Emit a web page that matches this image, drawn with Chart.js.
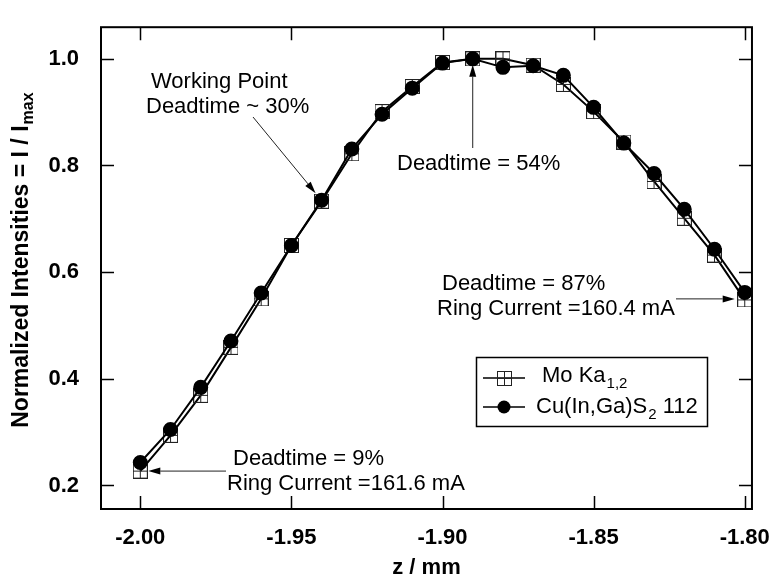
<!DOCTYPE html>
<html>
<head>
<meta charset="utf-8">
<script src="https://cdn.jsdelivr.net/npm/chart.js@4"></script>
<style>
  html, body { margin: 0; padding: 0; background: #fff; }
</style>
</head>
<body>
<canvas id="scan" width="778" height="585"></canvas>
<script>
// z scan positions (mm)
const zPos = [-2.00, -1.99, -1.98, -1.97, -1.96, -1.95, -1.94, -1.93, -1.92, -1.91, -1.90,
              -1.89, -1.88, -1.87, -1.86, -1.85, -1.84, -1.83, -1.82, -1.81, -1.80];
// normalized intensities I / Imax
const moKa = [0.227, 0.294, 0.369, 0.459, 0.550, 0.650, 0.733, 0.822, 0.901, 0.948, 0.993,
              1.000, 1.000, 0.988, 0.952, 0.901, 0.844, 0.770, 0.701, 0.632, 0.548];
const cuInGaS = [0.243, 0.305, 0.384, 0.471, 0.561, 0.650, 0.735, 0.831, 0.896, 0.945, 0.992,
                 1.000, 0.984, 0.987, 0.969, 0.909, 0.842, 0.785, 0.718, 0.643, 0.562];
const xTicks = [-2.00, -1.95, -1.90, -1.85, -1.80];
const yTicks = [0.2, 0.4, 0.6, 0.8, 1.0];

const FONT = "'Liberation Sans', Arial, Helvetica, sans-serif";

// open square with a cross in it, used as point style for Mo Ka
function boxMarker(size) {
  const c = document.createElement("canvas");
  c.width = size; c.height = size;
  const g = c.getContext("2d");
  g.strokeStyle = "#222";
  g.lineWidth = 1;
  g.strokeRect(0.5, 0.5, size - 1, size - 1);
  const m = Math.floor(size / 2) + 0.5;
  g.beginPath();
  g.moveTo(m, 0.5); g.lineTo(m, size - 0.5);
  g.moveTo(0.5, m); g.lineTo(size - 0.5, m);
  g.stroke();
  return c;
}
const box = boxMarker(15);

function arrow(ctx, x0, y0, x1, y1) {
  const a = Math.atan2(y1 - y0, x1 - x0);
  const len = 12, half = 3.5;
  ctx.beginPath();
  ctx.moveTo(x0, y0);
  ctx.lineTo(x1 - Math.cos(a) * len, y1 - Math.sin(a) * len);
  ctx.stroke();
  ctx.beginPath();
  ctx.moveTo(x1, y1);
  ctx.lineTo(x1 - Math.cos(a) * len - Math.sin(a) * half, y1 - Math.sin(a) * len + Math.cos(a) * half);
  ctx.lineTo(x1 - Math.cos(a) * len + Math.sin(a) * half, y1 - Math.sin(a) * len - Math.cos(a) * half);
  ctx.closePath();
  ctx.fill();
}

// text with a subscript part
function subText(ctx, x, y, main, sub, tail, size) {
  ctx.font = size + "px " + FONT;
  ctx.fillText(main, x, y);
  x += ctx.measureText(main).width;
  ctx.font = Math.round(size * 0.68) + "px " + FONT;
  ctx.fillText(sub, x + 1, y + 6);
  x += ctx.measureText(sub).width + 1;
  if (tail) {
    ctx.font = size + "px " + FONT;
    ctx.fillText(tail, x, y);
  }
}

const extras = {
  id: "extras",
  afterDraw(chart) {
    const ctx = chart.ctx;
    const a = chart.chartArea;
    const xs = chart.scales.x, ys = chart.scales.y;
    ctx.save();
    ctx.strokeStyle = "#000";
    ctx.fillStyle = "#000";

    // frame
    ctx.lineWidth = 2;
    ctx.strokeRect(a.left, a.top, a.right - a.left, a.bottom - a.top);

    // inward ticks on all four sides
    ctx.lineWidth = 1.5;
    ctx.beginPath();
    xTicks.forEach(v => {
      const px = Math.round(xs.getPixelForValue(v)) + 0.5;
      ctx.moveTo(px, a.bottom); ctx.lineTo(px, a.bottom - 13);
      ctx.moveTo(px, a.top); ctx.lineTo(px, a.top + 13);
    });
    yTicks.forEach(v => {
      const py = Math.round(ys.getPixelForValue(v)) + 0.5;
      ctx.moveTo(a.left, py); ctx.lineTo(a.left + 13, py);
      ctx.moveTo(a.right, py); ctx.lineTo(a.right - 13, py);
    });
    ctx.stroke();

    // y axis title with subscript
    ctx.save();
    ctx.translate(22, (a.top + a.bottom) / 2 - 8);
    ctx.rotate(-Math.PI / 2);
    ctx.textBaseline = "middle";
    const mainT = "Normalized Intensities = I / I", subT = "max";
    ctx.font = "bold 23px " + FONT;
    const w1 = ctx.measureText(mainT).width;
    ctx.font = "bold 16px " + FONT;
    const w2 = ctx.measureText(subT).width;
    const sx = -(w1 + w2 + 1) / 2;
    ctx.font = "bold 23px " + FONT;
    ctx.fillText(mainT, sx, 0);
    ctx.font = "bold 16px " + FONT;
    ctx.fillText(subT, sx + w1 + 1, 7);
    ctx.restore();

    // annotations
    ctx.font = "22px " + FONT;
    ctx.textBaseline = "alphabetic";
    ctx.textAlign = "left";
    ctx.fillText("Working Point", 151, 88);
    ctx.fillText("Deadtime ~ 30%", 146, 113);
    ctx.fillText("Deadtime = 54%", 397, 170);
    ctx.fillText("Deadtime = 87%", 442, 290);
    ctx.fillText("Ring Current =160.4 mA", 437, 315);
    ctx.fillText("Deadtime = 9%", 233, 465);
    ctx.fillText("Ring Current =161.6 mA", 227, 490);

    ctx.lineWidth = 1;
    ctx.strokeStyle = "#222";
    // working point -> z = -1.94
    const wx = xs.getPixelForValue(zPos[6]), wy = ys.getPixelForValue(cuInGaS[6]);
    arrow(ctx, 253, 117, wx - 6, wy - 7);
    // maximum at z = -1.89
    const mx = xs.getPixelForValue(zPos[11]), my = ys.getPixelForValue(moKa[11]);
    arrow(ctx, mx, 148, mx, my + 6);
    // last point z = -1.80
    const ex = xs.getPixelForValue(zPos[20]), ey = ys.getPixelForValue(moKa[20]);
    arrow(ctx, 676, ey - 1, ex - 10, ey - 1);
    // first point z = -2.00
    const bx = xs.getPixelForValue(zPos[0]), by = ys.getPixelForValue(moKa[0]);
    arrow(ctx, 226, by, bx + 8, by);

    // legend
    ctx.strokeStyle = "#000";
    ctx.lineWidth = 1.5;
    ctx.strokeRect(476.5, 357.5, 231, 69);
    ctx.beginPath();
    ctx.moveTo(483, 378); ctx.lineTo(525, 378);
    ctx.moveTo(483, 407); ctx.lineTo(525, 407);
    ctx.stroke();
    ctx.drawImage(box, 504 - 7, 378 - 7);
    ctx.beginPath();
    ctx.arc(504, 407, 6.5, 0, Math.PI * 2);
    ctx.fill();
    subText(ctx, 542, 382, "Mo Ka", "1,2", "", 22);
    subText(ctx, 536, 413, "Cu(In,Ga)S", "2", " 112", 22);

    ctx.restore();
  }
};

new Chart(document.getElementById("scan"), {
  type: "line",
  data: {
    datasets: [
      {
        label: "Mo Ka1,2",
        data: zPos.map((z, i) => ({ x: z, y: moKa[i] })),
        borderColor: "#000",
        borderWidth: 2,
        pointStyle: box,
        pointRadius: 7,
        order: 1
      },
      {
        label: "Cu(In,Ga)S2 112",
        data: zPos.map((z, i) => ({ x: z, y: cuInGaS[i] })),
        borderColor: "#000",
        borderWidth: 2,
        backgroundColor: "#000",
        pointBackgroundColor: "#000",
        pointBorderColor: "#000",
        pointRadius: 6.5,
        order: 0
      }
    ]
  },
  options: {
    responsive: false,
    animation: false,
    devicePixelRatio: 1,
    layout: { padding: { top: 11, right: 19, left: 0, bottom: 0 } },
    plugins: { legend: { display: false }, tooltip: { enabled: false } },
    scales: {
      x: {
        type: "linear",
        min: -2.013,
        max: -1.7976,
        afterFit: s => { s.height = 76; },
        afterBuildTicks: s => { s.ticks = xTicks.map(v => ({ value: v })); },
        grid: { display: false },
        border: { display: false },
        ticks: {
          color: "#000",
          font: { family: FONT, size: 22, weight: "bold" },
          padding: 8,
          maxRotation: 0,
          autoSkip: false,
          callback: v => v.toFixed(2)
        },
        title: {
          display: true,
          text: "z / mm",
          color: "#000",
          font: { family: FONT, size: 22, weight: "bold" },
          padding: { top: 0, bottom: 4 }
        }
      },
      y: {
        min: 0.1559,
        max: 1.0593,
        afterFit: s => { s.width = 101; },
        afterBuildTicks: s => { s.ticks = yTicks.map(v => ({ value: v })); },
        grid: { display: false },
        border: { display: false },
        ticks: {
          color: "#000",
          font: { family: FONT, size: 22, weight: "bold" },
          padding: 14,
          callback: v => v.toFixed(1)
        }
      }
    }
  },
  plugins: [extras]
});
</script>
</body>
</html>
